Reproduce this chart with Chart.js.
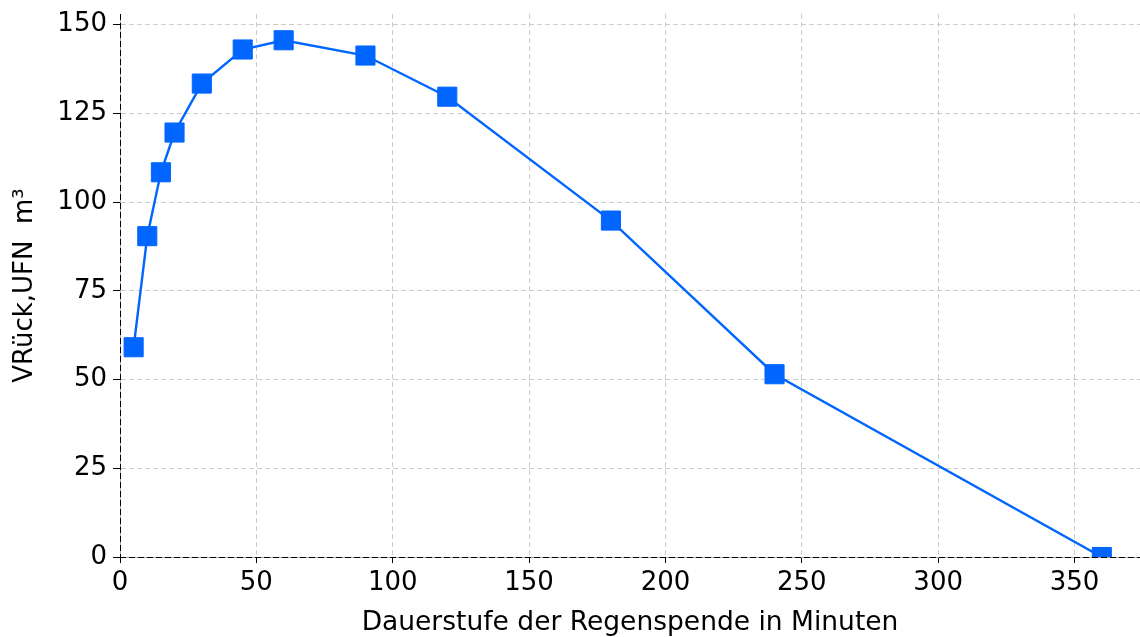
<!DOCTYPE html>
<html>
<head>
<meta charset="utf-8">
<script src="https://cdn.jsdelivr.net/npm/chart.js@4/dist/chart.umd.min.js"></script>
<style>
html,body{margin:0;padding:0;background:#fff;}
#wrap{width:1140px;height:637px;}
</style>
</head>
<body>
<div id="wrap"><canvas id="chart" width="1140" height="637"></canvas></div>
<script>
// Dauerstufe (min) und Rueckhaltevolumen (m³)
const durations = [5, 10, 15, 20, 30, 45, 60, 90, 120, 180, 240, 360];
const volumes = [59.1, 90.4, 108.4, 119.6, 133.4, 143.0, 145.6, 141.3, 129.7, 94.8, 51.5, 0];
const xTicks = [0, 50, 100, 150, 200, 250, 300, 350];
const yTicks = [0, 25, 50, 75, 100, 125, 150];

const font = "'DejaVu Sans', sans-serif";

// black dashed axis lines on top of the gray border
const axisDash = {
id:"axisDash",
beforeDatasetsDraw(chart){
const {ctx, chartArea:a} = chart;
ctx.save();
ctx.strokeStyle = "#000";
ctx.lineWidth = 1;
ctx.setLineDash([6,3]);
ctx.beginPath();
ctx.moveTo(a.left + 0.5, a.top);
ctx.lineTo(a.left + 0.5, a.bottom);
ctx.moveTo(a.left, a.bottom + 0.5);
ctx.lineTo(a.right, a.bottom + 0.5);
ctx.stroke();
ctx.restore();
}
};

new Chart(
document.getElementById("chart"),
{
type:"line",
data:{
datasets:[
{
data: durations.map((d,i)=>({x:d, y:volumes[i]})),
borderColor:"#0066ff",
backgroundColor:"#0066ff",
borderWidth:2.4,
pointStyle:"rect",
pointRadius:13.5,
pointHoverRadius:13.5,
pointBorderWidth:1,
pointBorderColor:"#0066ff",
tension:0,
clip:{left:20, top:20, right:20, bottom:0}
}
]
},
plugins:[axisDash],
options:{
responsive:false,
animation:false,
layout:{autoPadding:false, padding:{top:14,right:0,left:0,bottom:0}},
plugins:{
legend:{display:false},
tooltip:{enabled:false}
},
scales:{
x:{
type:"linear",
min:0,
max:374,
afterBuildTicks:(s)=>{ s.ticks = xTicks.map(v=>({value:v})); },
afterFit:(s)=>{ s.height = 80; s.paddingLeft = 0; s.paddingRight = 0; },
grid:{color:"#cccccc", lineWidth:1, tickColor:"#000", tickLength:6},
border:{display:true, color:"#aaaaaa", width:1, dash:[5,3]},
ticks:{color:"#000", font:{family:font, size:26}, padding:5, maxRotation:0},
title:{display:true, text:"Dauerstufe der Regenspende in Minuten", color:"#000", font:{family:font, size:26.5}, padding:{top:0,bottom:-2}}
},
y:{
type:"linear",
min:0,
max:153,
afterBuildTicks:(s)=>{ s.ticks = yTicks.map(v=>({value:v})); },
afterFit:(s)=>{ s.width = 120; s.paddingTop = 0; s.paddingBottom = 0; },
grid:{color:"#cccccc", lineWidth:1, tickColor:"#000", tickLength:7},
border:{display:true, color:"#aaaaaa", width:1, dash:[5,3]},
ticks:{color:"#000", font:{family:font, size:26}, padding:6},
title:{display:true, text:"VRück,UFN  m³", color:"#000", font:{family:font, size:26}, padding:{top:10,bottom:0}}
}
}
}
}
);
</script>
</body>
</html>
